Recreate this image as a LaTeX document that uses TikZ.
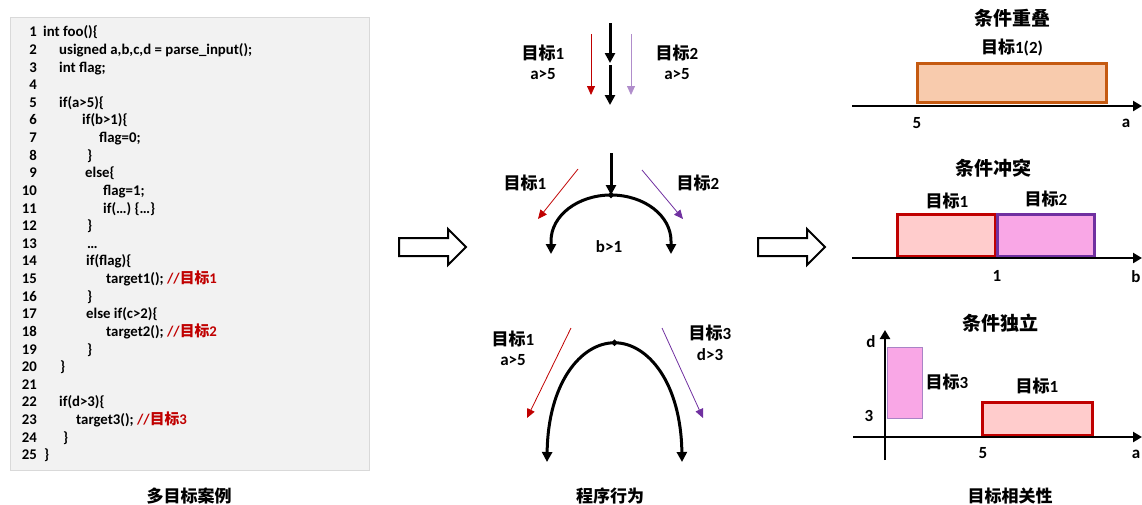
\documentclass[tikz,border=0pt]{standalone}
\usepackage{fontspec}
\setmainfont{Carlito}
\newfontfamily\cjkfont{Noto Sans CJK SC}
\newcommand\zh[1]{{\cjkfont\bfseries #1}}
\usetikzlibrary{arrows.meta,shapes.geometric}
\definecolor{cred}{HTML}{C00000}
\definecolor{cpurple}{HTML}{7030A0}
\definecolor{corange}{HTML}{C55A11}
\definecolor{corangefill}{HTML}{F8CBAD}
\definecolor{cpinkfill}{HTML}{FFCCCC}
\definecolor{cmagfill}{HTML}{F9A7E6}
\definecolor{codebg}{HTML}{F2F2F2}
\definecolor{codeborder}{HTML}{D9D9D9}
\tikzset{
  codetxt/.style={font=\bfseries\fontsize{14.8}{15}\selectfont, inner sep=0pt, anchor=base west},
  codenum/.style={font=\bfseries\fontsize{14.8}{15}\selectfont, inner sep=0pt, anchor=base east},
  bigarrow/.style={line width=3pt, -{Triangle[length=10pt,width=10pt]}},
  thinred/.style={cred, line width=0.8pt, -{Triangle[length=9pt,width=8pt]}},
  thinpurple/.style={cpurple, line width=0.8pt, -{Triangle[length=9pt,width=8pt]}},
  junction/.style={diamond, fill=black, inner sep=0pt, minimum size=7pt},
  axisline/.style={line width=2.5pt, -{Triangle[length=9pt,width=10pt]}},
  hollow/.style={line width=2pt, fill=white, line join=miter},
  lbl/.style={font=\bfseries\fontsize{17}{17}\selectfont, inner sep=0pt},
  ttl/.style={font=\bfseries\fontsize{19}{19}\selectfont, inner sep=0pt},
  capt/.style={font=\bfseries\fontsize{17}{17}\selectfont, inner sep=0pt},
}
\newcommand\codeline[3]{%
  \node[codetxt] (l#1) at (#2, {36.8+(#1-1)*17.625}) {#3};
  \node[codenum] (n#1) at (37, {36.8+(#1-1)*17.625}) {#1};}
\begin{document}
\begin{tikzpicture}[x=1pt,y=-1pt]
\useasboundingbox (0,0) rectangle (1142,504);
% ---------- code panel ----------
\draw[codeborder, fill=codebg, line width=1pt] (10,17) rectangle (369,470);
\codeline{1}{43}{int foo()\{}
\codeline{2}{59}{usigned a,b,c,d = parse\_input();}
\codeline{3}{59}{int flag;}
\node[codenum] (n4) at (37, {36.8+3*17.625}) {4};
\codeline{5}{59}{if(a>5)\{}
\codeline{6}{82}{if(b>1)\{}
\codeline{7}{99}{flag=0;}
\codeline{8}{87}{\}}
\codeline{9}{85}{else\{}
\codeline{10}{103}{flag=1;}
\codeline{11}{103}{if(…) \{…\}}
\codeline{12}{87}{\}}
\codeline{13}{87}{…}
\codeline{14}{86}{if(flag)\{}
\codeline{15}{106}{target1(); \textcolor{cred}{//\zh{目标}1}}
\codeline{16}{87}{\}}
\codeline{17}{86}{else if(c>2)\{}
\codeline{18}{106}{target2(); \textcolor{cred}{//\zh{目标}2}}
\codeline{19}{87}{\}}
\codeline{20}{60}{\}}
\node[codenum] (n21) at (37, {36.8+20*17.625}) {21};
\codeline{22}{59}{if(d>3)\{}
\codeline{23}{76}{target3(); \textcolor{cred}{//\zh{目标}3}}
\codeline{24}{63}{\}}
\codeline{25}{44}{\}}
\node[capt] (cap1) at (189,496) {\zh{多目标案例}};
% ---------- hollow arrows ----------
\draw[hollow] (399,238) -- (448,238) -- (448,229) -- (466,247) -- (448,265) -- (448,256) -- (399,256) -- cycle;
\draw[hollow] (758,238) -- (807,238) -- (807,229) -- (825,247) -- (807,265) -- (807,256) -- (758,256) -- cycle;
% ---------- program behaviour: top ----------
\coordinate (a0) at (610,23);
\coordinate (a1) at (610,63);
\coordinate (a2) at (610,65);
\coordinate (a3) at (610,105);
\draw[bigarrow] (a0) -- (a1);
\draw[bigarrow] (a2) -- (a3);
\coordinate (r0) at (591,34); \coordinate (r1) at (591,95);
\coordinate (p0) at (631,34); \coordinate (p1) at (631,95);
\draw[thinred] (r0) -- (r1);
\draw[thinpurple, draw=cpurple!55] (p0) -- (p1);
\node[lbl] (t1a) at (543,53) {\zh{目标}1};
\node[lbl] (t1b) at (543,74) {a>5};
\node[lbl] (t2a) at (677,53) {\zh{目标}2};
\node[lbl] (t2b) at (677,74) {a>5};
% ---------- program behaviour: middle ----------
\coordinate (b0) at (611,153);
\node[junction] (m) at (611,195) {};
\draw[bigarrow] (b0) -- (m.center);
\draw[line width=3pt, -{Triangle[length=10pt,width=10pt]}] (m.center) arc[start angle=90, end angle=180, x radius=60pt, y radius=46pt] -- ++(0,13);
\draw[line width=3pt, -{Triangle[length=10pt,width=10pt]}] (m.center) arc[start angle=90, end angle=0, x radius=60pt, y radius=46pt] -- ++(0,13);
\coordinate (mr0) at (578,169); \coordinate (mr1) at (538,219);
\coordinate (mp0) at (642,170); \coordinate (mp1) at (683,219);
\draw[thinred] (mr0) -- (mr1);
\draw[thinpurple] (mp0) -- (mp1);
\node[lbl] (u1) at (525,183) {\zh{目标}1};
\node[lbl] (u2) at (698,183) {\zh{目标}2};
\node[lbl] (u3) at (609,247) {b>1};
% ---------- program behaviour: bottom ----------
\node[junction] (n) at (614.5,342.75) {};
\draw[line width=3pt, -{Triangle[length=10pt,width=10pt]}] (n.center) .. controls (581.25,342.75) and (548,382.5) .. (547,462);
\draw[line width=3pt, -{Triangle[length=10pt,width=10pt]}] (n.center) .. controls (647.75,342.75) and (681,382.5) .. (682,462);
\coordinate (nr0) at (571,328); \coordinate (nr1) at (527,418);
\coordinate (np0) at (662,328); \coordinate (np1) at (703,418);
\draw[thinred] (nr0) -- (nr1);
\draw[thinpurple] (np0) -- (np1);
\node[lbl] (v1a) at (513,339) {\zh{目标}1};
\node[lbl] (v1b) at (513,360) {a>5};
\node[lbl] (v2a) at (710,333) {\zh{目标}3};
\node[lbl] (v2b) at (710,355) {d>3};
\node[capt] (cap2) at (610,496) {\zh{程序行为}};
% ---------- target relations: overlap ----------
\node[ttl] (h1) at (1012,18) {\zh{条件重叠}};
\draw[corange, fill=corangefill, line width=3pt] (917.5,63.5) rectangle (1106.5,102.5);
\node[lbl] (o1) at (1012,48) {\zh{目标}1(2)};
\coordinate (x0) at (852,106); \coordinate (x1) at (1142,106);
\draw[axisline] (x0) -- (x1);
\node[lbl] (o5) at (917,123) {5};
\node[lbl] (oa) at (1126,123) {a};
% ---------- conflict ----------
\node[ttl] (h2) at (993,168) {\zh{条件冲突}};
\draw[cred, fill=cpinkfill, line width=3pt] (897.5,214.5) rectangle (995.5,256);
\draw[cpurple, fill=cmagfill, line width=3pt] (997.5,214.5) rectangle (1094.5,256);
\coordinate (y0) at (852,258); \coordinate (y1) at (1142,258);
\draw[axisline] (y0) -- (y1);
\node[lbl] (c1) at (947,201) {\zh{目标}1};
\node[lbl] (c2) at (1046,199) {\zh{目标}2};
\node[lbl] (c3) at (997,276) {1};
\node[lbl] (c4) at (1136,277) {b};
% ---------- independent ----------
\node[ttl] (h3) at (1000,323) {\zh{条件独立}};
\draw[cpurple!60, fill=cmagfill, line width=1pt] (887,347) rectangle (922,418);
\draw[cred, fill=cpinkfill, line width=3pt] (982.5,402.5) rectangle (1092,435);
\coordinate (z0) at (853,437); \coordinate (z1) at (1142,437);
\coordinate (w0) at (885,460); \coordinate (w1) at (885,330);
\draw[axisline] (z0) -- (z1);
\draw[axisline] (w0) -- (w1);
\node[lbl] (d1) at (871,342) {d};
\node[lbl] (d2) at (869,416) {3};
\node[lbl] (d3) at (947,382) {\zh{目标}3};
\node[lbl] (d4) at (1037,386) {\zh{目标}1};
\node[lbl] (d5) at (983,453) {5};
\node[lbl] (d6) at (1136,454) {a};
\node[capt] (cap3) at (1010,496) {\zh{目标相关性}};
\end{tikzpicture}
\end{document}
